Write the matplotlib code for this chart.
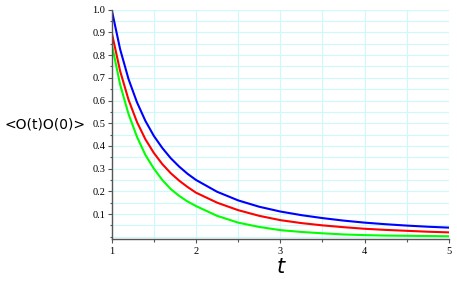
import numpy as np
from matplotlib import pyplot as plt
from matplotlib.ticker import MultipleLocator

# values
t = [1.0, 1.1, 1.2, 1.3, 1.4, 1.5, 1.6, 1.7, 1.8, 1.9, 2.0,
     2.25, 2.5, 2.75, 3.0, 3.25, 3.5, 3.75, 4.0, 4.25, 4.5, 4.75, 5.0]
blue = [1.0, 0.826, 0.694, 0.592, 0.510, 0.444, 0.391, 0.346, 0.309, 0.277, 0.250,
        0.198, 0.160, 0.132, 0.111, 0.095, 0.082, 0.071, 0.062, 0.055, 0.049, 0.044, 0.040]
red = [0.9, 0.730, 0.603, 0.505, 0.429, 0.369, 0.320, 0.280, 0.247, 0.219, 0.194,
       0.150, 0.117, 0.092, 0.073, 0.060, 0.050, 0.042, 0.035, 0.030, 0.026, 0.022, 0.019]
green = [0.85, 0.67, 0.54, 0.44, 0.36, 0.30, 0.25, 0.21, 0.18, 0.155, 0.135,
         0.092, 0.062, 0.043, 0.029, 0.021, 0.015, 0.010, 0.007, 0.005, 0.004, 0.003, 0.002]

fig = plt.figure(figsize=(4.57, 2.82), dpi=100)
ax = fig.add_axes([0.2444, 0.1535, 0.738, 0.8121])

ax.plot(t, blue, color='#0000ff', lw=1.5)
ax.plot(t, red, color='#ff0000', lw=1.5)
ax.plot(t, green, color='#00ff00', lw=1.5)

ax.set_xlim(1, 5)
ax.set_ylim(-0.0088, 1.0)

ax.xaxis.set_major_locator(MultipleLocator(1))
ax.xaxis.set_minor_locator(MultipleLocator(0.5))
ax.set_yticks(np.arange(1, 11) / 10)
ax.yaxis.set_minor_locator(MultipleLocator(0.05))
ax.set_yticklabels(['%.1f' % v for v in np.arange(1, 11) / 10])

ax.grid(True, which='both', color='#ccfafa', lw=0.8)
ax.set_axisbelow(True)

for s in ['top', 'right']:
    ax.spines[s].set_visible(False)
for s in ['left', 'bottom']:
    ax.spines[s].set_color('#555555')
    ax.spines[s].set_linewidth(1.0)

ax.tick_params(which='major', length=3, width=0.8, color='#555555',
               labelsize=7.5, pad=1.5)
ax.tick_params(which='minor', length=1.8, width=0.8, color='#555555')
for lab in ax.get_xticklabels() + ax.get_yticklabels():
    lab.set_family('Liberation Serif')
ax.tick_params(axis='x', pad=3)

ax.set_xlabel('t', fontsize=15, style='italic', labelpad=1)
fig.text(5 / 457, 1 - 124 / 282, '<O(t)O(0)>', fontsize=10, ha='left', va='center')

fig.savefig('out.png', dpi=100)
